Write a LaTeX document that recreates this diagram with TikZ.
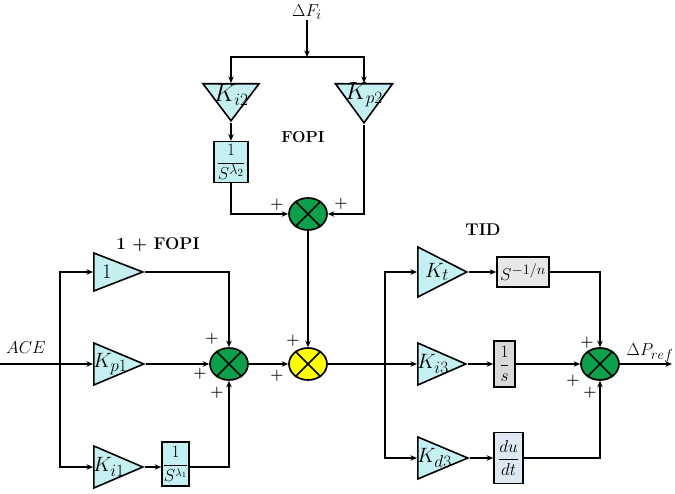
\documentclass[tikz,border=0pt]{standalone}
\usetikzlibrary{shapes.geometric,arrows.meta}
\DeclareMathSizes{21}{21}{17}{13}
\DeclareMathSizes{23}{23}{18}{14}
\DeclareMathSizes{18}{18}{14}{11}
\DeclareMathSizes{19}{19}{15}{12}
\definecolor{tricol}{HTML}{C4F0F2}
\definecolor{grn}{HTML}{0AA14A}
\definecolor{yel}{HTML}{FFFF00}
\definecolor{gboxa}{HTML}{E8E8E8}
\definecolor{gboxb}{HTML}{D9D9D9}
\definecolor{bboxc}{HTML}{DDE8F2}
\begin{document}
\begin{tikzpicture}[x=1pt,y=-1pt,
  tri/.style={isosceles triangle, isosceles triangle stretches, draw, fill=tricol,
    line width=1.6pt, inner sep=0pt, anchor=lower side},
  rtri/.style={tri, shape border rotate=0},
  dtri/.style={tri, shape border rotate=270},
  sumn/.style={ellipse, draw, line width=1.7pt, minimum width=38pt, minimum height=32pt, inner sep=0pt},
  blk/.style={draw, rectangle, line width=1.6pt, inner sep=0pt},
  arr/.style={-{Stealth[length=6.5pt,width=5.5pt]}, line width=1.6pt},
  lbl/.style={inner sep=0pt, font=\fontsize{21}{24}\selectfont},
  big/.style={inner sep=0pt, font=\fontsize{23}{26}\selectfont},
  ttl/.style={inner sep=0pt, font=\fontsize{17}{20}\selectfont\bfseries},
  pl/.style={inner sep=0pt, font=\fontsize{15}{17}\selectfont\bfseries}
]
\useasboundingbox (0,0) rectangle (675,494);

% ---------- top FOPI ----------
\node[inner sep=0pt, font=\fontsize{19}{22}\selectfont] (dF) at (307,12) {$\Delta F_i$};
\coordinate (jn) at (307,57);
\node[dtri, minimum width=56pt, minimum height=37pt] (ki2) at (231,83) {};
\node[dtri, minimum width=57pt, minimum height=39pt] (kp2) at (364,83) {};
\node[big] at ([yshift=-12pt]ki2.lower side) {$K_{i2}$};
\node[big] at ([yshift=-12pt]kp2.lower side) {$K_{p2}$};
\node[blk, fill=tricol, minimum width=34pt, minimum height=41pt] (bx2) at (231,162)
  {\fontsize{18}{20}\selectfont$\displaystyle\frac{1}{S^{\lambda_2}}$};
\node[ttl, font=\fontsize{16}{19}\selectfont\bfseries] (fopi) at (303,137) {FOPI};
\node[sumn, fill=grn] (stop) at (308,214) {};

\draw[arr] (dF) -- (jn);
\draw[arr] (jn) -| (ki2.lower side);
\draw[arr] (jn) -| (kp2.lower side);
\draw[arr] (ki2.apex) -- (bx2.north);
\draw[arr] (bx2.south) |- (stop.west);
\draw[arr] (kp2.apex) |- (stop.east);
\node[pl] at (277,205) {+};
\node[pl] at (341,204) {+};

% ---------- left 1+FOPI ----------
\node[inner sep=0pt, font=\fontsize{16}{19}\selectfont] (ace) at (26,348) {$ACE$};
\coordinate (in) at (0,364);
\coordinate (br) at (60,364);
\node[ttl] (opf) at (158,245) {1 + FOPI};
\node[rtri, minimum height=49pt, minimum width=38pt] (t1) at (93,272) {};
\node[rtri, minimum height=50pt, minimum width=42pt] (kp1) at (93,364) {};
\node[rtri, minimum height=49pt, minimum width=42pt] (ki1) at (93,467) {};
\node[lbl, anchor=west] at ([xshift=9pt]t1.lower side) {$1$};
\node[lbl, anchor=west] at ([xshift=0pt]kp1.lower side) {$K_{p1}$};
\node[lbl, anchor=west] at ([xshift=0pt]ki1.lower side) {$K_{i1}$};
\node[blk, fill=tricol, minimum width=27pt, minimum height=44pt] (bx1) at (175.5,464)
  {\fontsize{16}{18}\selectfont$\displaystyle\frac{1}{S^{\lambda_1}}$};
\node[sumn, fill=grn] (sg) at (229,364) {};
\node[sumn, fill=yel] (sy) at (308,364) {};

\draw[arr] (in) -- (kp1.lower side);
\draw[arr] (br) |- (t1.lower side);
\draw[arr] (br) |- (ki1.lower side);
\draw[arr] (ki1.apex) -- (ki1.apex -| bx1.west);
\draw[arr] (ki1.apex -| bx1.east) -| (sg.south);
\draw[arr] (t1.apex) -| (sg.north);
\draw[arr] (kp1.apex) -- (sg.west);
\draw[arr] (sg.east) -- (sy.west);
\draw[arr] (stop.south) -- (sy.north);
\node[pl] at (212,339) {+};
\node[pl] at (200,374) {+};
\node[pl] at (217,393) {+};
\node[pl] at (293,341) {+};
\node[pl] at (277,376) {+};

% ---------- right TID ----------
\node[ttl] (tid) at (483,230) {TID};
\coordinate (br2) at (385,364);
\node[rtri, minimum height=49pt, minimum width=50pt] (kt) at (417,272) {};
\node[rtri, minimum height=48pt, minimum width=42pt] (ki3) at (417,364) {};
\node[rtri, minimum height=50pt, minimum width=42pt] (kd3) at (417,458) {};
\node[lbl, anchor=west] at ([xshift=8pt]kt.lower side) {$K_t$};
\node[lbl, anchor=west] at ([xshift=0pt]ki3.lower side) {$K_{i3}$};
\node[lbl, anchor=west] at ([xshift=0pt]kd3.lower side) {$K_{d3}$};
\node[blk, fill=gboxa, minimum width=52pt, minimum height=30pt] (bs) at (523,272)
  {\fontsize{19}{21}\selectfont$S^{-1/n}$};
\node[blk, fill=gboxb, minimum width=21pt, minimum height=46pt] (b1s) at (504.5,364)
  {\fontsize{17}{19}\selectfont$\displaystyle\frac{1}{s}$};
\node[blk, fill=bboxc, minimum width=29pt, minimum height=51pt] (bdu) at (508.5,458)
  {\fontsize{19}{21}\selectfont$\displaystyle\frac{du}{dt}$};
\node[sumn, fill=grn] (so) at (600,364) {};
\coordinate (out) at (672,364);
\node[inner sep=0pt, font=\fontsize{18}{21}\selectfont] (dp) at (650,353) {$\Delta P_{ref}$};

\draw[arr] (sy.east) -- (ki3.lower side);
\draw[arr] (br2) |- (kt.lower side);
\draw[arr] (br2) |- (kd3.lower side);
\draw[arr] (kt.apex) -- (bs.west);
\draw[arr] (ki3.apex) -- (b1s.west);
\draw[arr] (kd3.apex) -- (bdu.west);
\draw[arr] (bs.east) -| (so.north);
\draw[arr] (b1s.east) -- (so.west);
\draw[arr] (bdu.east) -| (so.south);
\draw[arr] (so.east) -- (out);
\node[pl] at (587,343) {+};
\node[pl] at (573,381) {+};
\node[pl] at (590,393) {+};

% crosses in summing junctions
\foreach \s in {stop,sg,sy,so}
  \draw[line width=1.6pt] (\s.45) -- (\s.225) (\s.135) -- (\s.315);
\end{tikzpicture}
\end{document}
